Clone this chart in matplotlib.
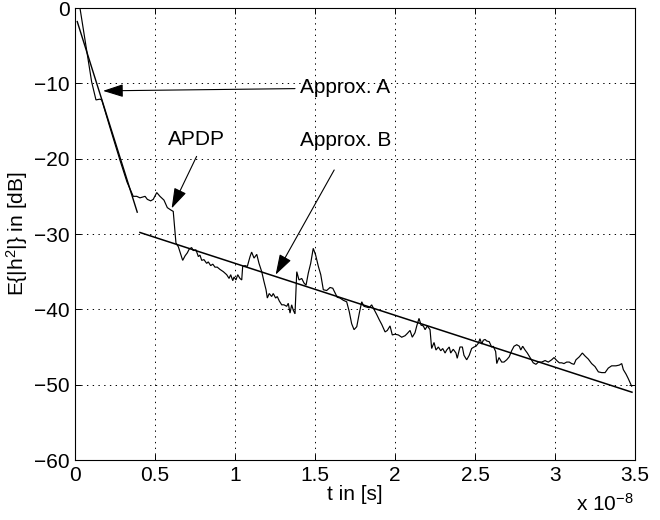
import numpy as np
import matplotlib
matplotlib.use("Agg")
import matplotlib.pyplot as plt

plt.rcParams['font.family'] = ['Liberation Sans', 'DejaVu Sans']
plt.rcParams['mathtext.fontset'] = 'custom'
plt.rcParams['mathtext.rm'] = 'Liberation Sans'
plt.rcParams['mathtext.it'] = 'Liberation Sans'

# ---- data (time in ns, power in dB) ----
apdp_t_ns = [0.31, 1.04, 1.31, 1.56, 1.67, 2.19, 2.81, 3.25, 3.64, 3.86, 4.06, 4.38, 4.52, 4.73,
             4.89, 5.11, 5.31, 5.56, 5.77, 5.98, 6.14, 6.31, 6.46, 6.61, 6.73, 6.88, 7.02, 7.14,
             7.29, 7.39, 7.56, 7.71, 7.81, 7.92, 8.06, 8.23, 8.33, 8.48, 8.61, 8.75, 8.89, 9.06,
             9.27, 9.48, 9.63, 9.73, 9.86, 9.94, 10.06, 10.17, 10.31, 10.42, 10.48, 10.63, 10.77,
             10.94, 11.04, 11.19, 11.36, 11.5, 11.67, 11.81, 11.94, 12.02, 12.14, 12.29, 12.39,
             12.54, 12.64, 12.77, 12.92, 13.06, 13.23, 13.33, 13.44, 13.54, 13.64, 13.75, 13.86,
             14.0, 14.17, 14.31, 14.44, 14.58, 14.73, 14.89, 15.04, 15.21, 15.36, 15.52, 15.73,
             15.94, 16.11, 16.25, 16.39, 16.56, 16.77, 16.98, 17.14, 17.29, 17.44, 17.61, 17.77,
             17.92, 18.06, 18.23, 18.39, 18.54, 18.69, 18.86, 19.02, 19.17, 19.38, 19.52, 19.69,
             19.83, 20.0, 20.21, 20.42, 20.63, 20.77, 20.94, 21.08, 21.25, 21.36, 21.5, 21.63,
             21.77, 21.88, 22.02, 22.19, 22.29, 22.44, 22.56, 22.71, 22.86, 22.98, 23.13, 23.23,
             23.39, 23.48, 23.64, 23.81, 23.89, 24.06, 24.21, 24.31, 24.48, 24.64, 24.79, 24.94,
             25.06, 25.21, 25.31, 25.42, 25.52, 25.63, 25.73, 25.89, 26.04, 26.14, 26.29, 26.36,
             26.5, 26.67, 26.81, 26.98, 27.14, 27.29, 27.44, 27.61, 27.77, 27.86, 27.98, 28.13,
             28.27, 28.44, 28.64, 28.81, 28.96, 29.17, 29.38, 29.58, 29.79, 29.94, 30.11, 30.27,
             30.42, 30.56, 30.73, 30.89, 31.04, 31.19, 31.31, 31.52, 31.71, 31.88, 32.08, 32.29,
             32.5, 32.71, 32.92, 33.13, 33.33, 33.54, 33.81, 34.02, 34.17, 34.27, 34.44, 34.58,
             34.79]
apdp_db = [0.0, -9.8, -12.2, -12.1, -12.2, -15.9, -20.2, -23.1, -25.0, -25.0, -25.2, -25.0, -25.4,
           -25.6, -25.4, -24.5, -25.0, -25.5, -26.5, -26.8, -27.0, -31.2, -31.7, -32.7, -33.5,
           -32.9, -32.5, -32.0, -31.8, -32.2, -32.1, -33.0, -32.8, -33.5, -33.4, -33.9, -33.7,
           -34.2, -34.0, -34.4, -34.4, -34.7, -35.0, -35.4, -35.9, -35.4, -36.2, -35.7, -36.1,
           -35.4, -35.9, -36.1, -34.3, -34.2, -34.3, -33.0, -32.4, -33.2, -32.7, -33.9, -35.0,
           -36.3, -37.4, -38.5, -37.9, -38.3, -37.9, -38.5, -38.3, -38.9, -39.4, -39.4, -39.6,
           -39.2, -40.5, -39.4, -40.1, -40.6, -35.0, -36.1, -35.9, -36.5, -36.8, -35.2, -33.9,
           -31.9, -32.8, -34.3, -35.4, -37.4, -37.5, -37.1, -37.2, -37.8, -38.4, -38.5, -38.8,
           -39.0, -40.3, -41.9, -42.7, -42.3, -40.5, -39.0, -39.6, -39.7, -39.8, -39.4, -40.0,
           -40.7, -41.4, -42.0, -43.0, -42.8, -42.2, -43.4, -43.3, -43.4, -43.7, -43.5, -43.2,
           -42.8, -43.7, -43.1, -42.2, -41.2, -42.1, -42.2, -42.7, -42.2, -42.7, -45.2, -44.4,
           -45.4, -45.0, -45.5, -45.2, -45.8, -45.4, -45.0, -45.8, -45.3, -45.8, -46.5, -45.0,
           -45.0, -46.1, -46.7, -46.1, -45.2, -45.0, -44.9, -44.5, -43.9, -44.6, -44.1, -44.0,
           -44.2, -44.3, -45.0, -44.9, -45.6, -47.2, -46.4, -47.0, -47.0, -46.7, -46.3, -45.5,
           -44.9, -44.7, -44.9, -45.4, -44.9, -45.4, -45.8, -46.4, -47.1, -47.3, -47.0, -47.0,
           -46.8, -47.0, -46.7, -46.4, -46.8, -47.1, -47.1, -47.2, -47.0, -47.0, -47.2, -47.3,
           -46.7, -46.3, -45.8, -46.2, -46.6, -47.2, -47.6, -48.3, -48.4, -48.4, -47.8, -47.5,
           -47.5, -47.4, -47.2, -48.0, -48.6, -49.2, -50.2]

approx_a_t_ns = [0.14, 3.89]
approx_a_db = [-1.8, -27.1]
approx_b_t_ns = [4.06, 34.81]
approx_b_db = [-29.8, -51.0]

x_ticks = [0, 0.5e-8, 1e-8, 1.5e-8, 2e-8, 2.5e-8, 3e-8, 3.5e-8]
x_tick_labels = ['0', '0.5', '1', '1.5', '2', '2.5', '3', '3.5']
y_ticks = [-60, -50, -40, -30, -20, -10, 0]

# annotation positions (t in ns, dB)
label_a = ("Approx. A", 14.06, -10.6)
arrow_a = ((13.75, -10.7), (1.75, -11.0))
label_apdp = ("APDP", 7.6, -17.4)
arrow_apdp = ((7.6, -19.7), (6.04, -26.6))
label_b = ("Approx. B", 14.06, -17.6)
arrow_b = ((16.2, -21.5), (12.54, -35.4))

ns = 1e-9

fig = plt.figure(figsize=(6.6, 5.2), dpi=100)
ax = fig.add_axes([75/660, 1 - 460/520, 560/660, 452/520])

ax.plot(np.array(apdp_t_ns) * ns, apdp_db, color='k', lw=0.85, solid_joinstyle='miter')
ax.plot(np.array(approx_a_t_ns) * ns, approx_a_db, color='k', lw=1.0)
ax.plot(np.array(approx_b_t_ns) * ns, approx_b_db, color='k', lw=1.1)

ax.set_xlim(0, 3.5e-8)
ax.set_ylim(-60, 0)
ax.set_xticks(x_ticks)
ax.set_xticklabels(x_tick_labels)
ax.set_yticks(y_ticks)
ax.tick_params(direction='in', length=4, width=0.7, top=True, right=True,
               labelsize=15, colors='k', pad=4)
for s in ax.spines.values():
    s.set_linewidth(0.8)
ax.grid(True, color='k', linestyle=(0, (1.4, 4.5)), linewidth=0.7)

ax.set_xlabel("t in [s]", fontsize=15, labelpad=0)
ax.set_ylabel("E{|h$^2$|} in [dB]", fontsize=15)
ax.yaxis.set_label_coords(-0.081, 0.5)

ax.text(0.997, -0.072, "x 10$^{-8}$", transform=ax.transAxes, fontsize=15,
        ha='right', va='top')

aprops = dict(arrowstyle='-|>,head_length=1.25,head_width=0.4', color='k', lw=0.8,
              mutation_scale=10, shrinkA=0, shrinkB=0)
for (txt, tx, ty) in [label_a, label_b]:
    ax.text(tx * ns, ty, txt, fontsize=15, ha='left', va='center')
ax.text(label_apdp[1] * ns, label_apdp[2], label_apdp[0], fontsize=15, ha='center', va='center')
for (tail, tip) in [arrow_a, arrow_apdp, arrow_b]:
    ax.annotate("", xy=(tip[0] * ns, tip[1]), xytext=(tail[0] * ns, tail[1]),
                arrowprops=aprops)

fig.savefig("out.png", dpi=100)
